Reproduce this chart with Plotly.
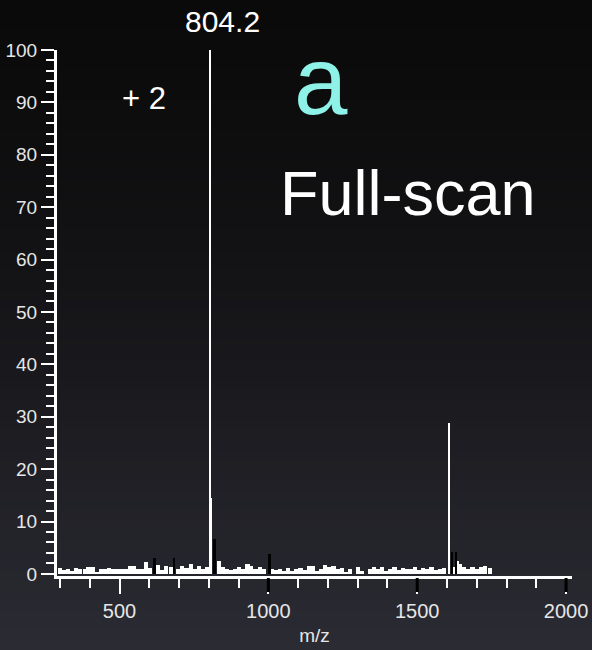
import plotly.graph_objects as go

# Baseline noise of the full-scan spectrum (m/z, relative intensity %)
noise_mz = [300, 312, 326, 341, 355, 368, 383, 396, 410, 424, 437, 452, 466, 480,
            494, 508, 521, 535, 549, 562, 576, 590, 603, 630, 644, 657, 672, 698,
            711, 725, 739, 752, 766, 779, 793, 834, 848, 861, 875, 889, 902,
            916, 930, 943, 957, 971, 985, 1012, 1026, 1040, 1053, 1067, 1081, 1094,
            1108, 1122, 1136, 1150, 1163, 1177, 1191, 1205, 1219, 1232, 1246, 1260,
            1274, 1300, 1314, 1341, 1355, 1368, 1382, 1396, 1410, 1424, 1437, 1451,
            1465, 1479, 1493, 1507, 1520, 1534, 1548, 1562, 1576, 1590, 1625, 1635,
            1645, 1658, 1672, 1686, 1700, 1714, 1728, 1745]
noise_int = [1.2, 0.8, 1.0, 0.5, 1.1, 0.9, 1.0, 1.3, 1.4, 0.3, 1.0, 1.0, 1.1, 0.9,
             1.0, 1.0, 0.9, 1.6, 1.5, 0.9, 1.0, 2.3, 1.2, 1.7, 0.8, 1.5, 1.3, 0.9,
             1.6, 1.2, 1.8, 1.0, 1.6, 1.0, 1.3, 2.5, 1.4, 1.0, 0.8, 0.9, 1.4,
             1.0, 1.9, 1.5, 1.0, 1.3, 0.9, 1.0, 0.8, 1.0, 0.6, 1.2, 0.5, 1.0,
             1.1, 0.7, 1.6, 1.6, 0.6, 1.0, 1.7, 1.3, 1.6, 1.0, 1.1, 0.4,
             1.0, 1.3, 0.5, 1.0, 1.3, 0.9, 1.4, 0.5, 1.0, 1.3, 0.8, 1.2,
             0.9, 1.0, 1.3, 0.8, 1.1, 0.9, 1.4, 0.8, 1.0, 1.2, 1.3, 2.4,
             1.8, 1.4, 1.0, 1.3, 1.0, 1.4, 1.6, 1.2]

# Main ions (white)
peak_mz = [804.2, 809.0, 1607.6]
peak_int = [100.0, 14.5, 28.8]

# Dark sticks overlaid on the trace
dark_mz = [617, 684, 819, 1004, 1616, 1630]
dark_int = [3.0, 3.0, 6.7, 3.8, 4.2, 4.2]

# Major x ticks that are drawn dark
dark_ticks = [1000, 1500, 2000]

base_label = "804.2"
charge_label = "+ 2"
panel_label = "a"
scan_label = "Full-scan"

W, H = 592, 650
L, R, T, B = 57, 20, 50, 74
plot_w = W - L - R
plot_h = H - T - B

fig = go.Figure()
fig.add_trace(go.Bar(x=noise_mz, y=noise_int, width=14,
                     marker=dict(color="white", line=dict(width=0)),
                     hoverinfo="skip"))
fig.add_trace(go.Bar(x=peak_mz, y=peak_int, width=[9, 6, 8],
                     marker=dict(color="white", line=dict(width=0))))
fig.add_trace(go.Bar(x=dark_mz, y=dark_int, width=[8, 8, 12, 10, 8, 9],
                     marker=dict(color="black", line=dict(width=0))))

# Vertical dark gradient behind everything
shapes = []
n_bands = 65
top_c = (10, 10, 10)
bot_c = (43, 43, 52)
for i in range(n_bands):
    py0 = i * H / n_bands
    py1 = (i + 1) * H / n_bands + 1
    t = ((py0 + py1) / 2 / H) ** 1.4
    c = tuple(int(round(a + (b - a) * t)) for a, b in zip(top_c, bot_c))
    shapes.append(dict(type="rect", xref="paper", yref="paper", layer="below",
                       x0=-L / plot_w, x1=(W - L) / plot_w,
                       y0=(H - B - py1) / plot_h, y1=(H - B - py0) / plot_h,
                       fillcolor="rgb(%d,%d,%d)" % c, line=dict(width=0)))
for xt in dark_ticks:
    shapes.append(dict(type="line", xref="x", yref="paper", layer="above",
                       x0=xt, x1=xt, y0=-2 / plot_h, y1=-16 / plot_h,
                       line=dict(color="black", width=3)))

font_fam = "Liberation Sans, Arial, Helvetica, sans-serif"
fig.update_layout(
    width=W, height=H,
    margin=dict(l=L, r=R, t=T, b=B),
    paper_bgcolor="#121214", plot_bgcolor="rgba(0,0,0,0)",
    showlegend=False, barmode="overlay", bargap=0,
    font=dict(family=font_fam, color="#e6e6e6"),
    shapes=shapes,
    xaxis=dict(range=[290, 2020], showgrid=False, zeroline=False, automargin=False,
               showline=True, linecolor="white", linewidth=3,
               ticks="outside", tick0=0, dtick=500, ticklen=15, tickwidth=2,
               tickcolor="white", tickfont=dict(size=20, color="#e6e6e6"),
               minor=dict(dtick=100, tick0=0, ticks="outside", ticklen=9,
                          tickwidth=2, tickcolor="white"),
               title=dict(text="m/z", font=dict(size=19, color="#e6e6e6"),
                          standoff=8)),
    yaxis=dict(range=[-0.4, 100], showgrid=False, zeroline=False, automargin=False,
               showline=True, linecolor="white", linewidth=3,
               ticks="outside", tick0=0, dtick=10, ticklen=13, tickwidth=2,
               tickcolor="white", tickfont=dict(size=19, color="#e6e6e6"),
               minor=dict(dtick=2, tick0=0, ticks="outside", ticklen=8,
                          tickwidth=2, tickcolor="white")),
    annotations=[
        dict(text=base_label, x=804.2, xref="x", xshift=12, xanchor="center",
             y=(H - B - 22) / plot_h, yref="paper", yanchor="middle",
             showarrow=False, font=dict(size=30, color="white")),
        dict(text=charge_label, x=(144 - L) / plot_w, xref="paper", xanchor="center",
             y=(H - B - 98) / plot_h, yref="paper", yanchor="middle",
             showarrow=False, font=dict(size=31, color="white")),
        dict(text=panel_label, x=(321 - L) / plot_w, xref="paper", xanchor="center",
             y=(H - B - 80) / plot_h, yref="paper", yanchor="middle",
             showarrow=False, font=dict(size=96, color="#8ef2e8")),
        dict(text=scan_label, x=(408 - L) / plot_w, xref="paper", xanchor="center",
             y=(H - B - 193) / plot_h, yref="paper", yanchor="middle",
             showarrow=False, font=dict(size=63, color="white")),
    ],
)

fig.write_html("out.html")
